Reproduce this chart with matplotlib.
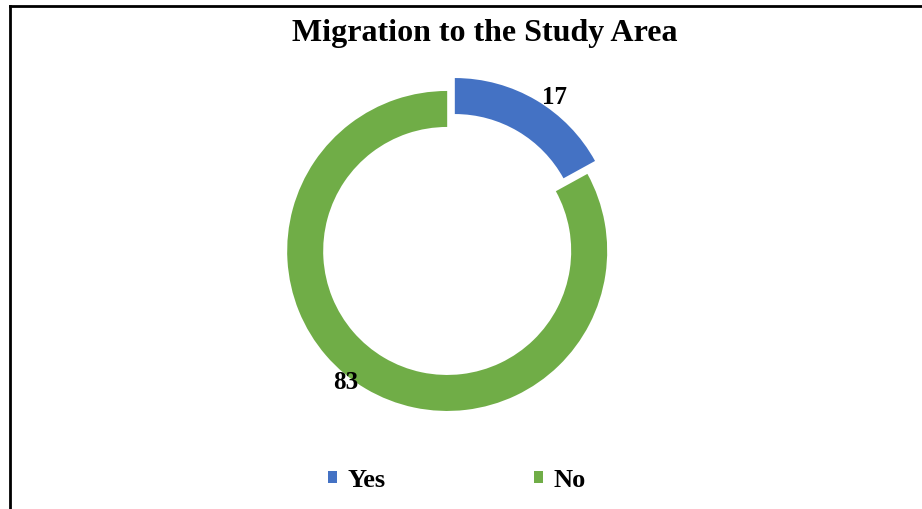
import matplotlib
matplotlib.use("Agg")
import matplotlib.pyplot as plt
from matplotlib.lines import Line2D

# Survey responses (percent)
categories = ["Yes", "No"]
values = [17, 83]
colors = ["#4472C4", "#70AD47"]
title = "Migration to the Study Area"

W, H = 922, 510
fig = plt.figure(figsize=(W / 100, H / 100), dpi=100)
ax = fig.add_axes([0, 0, 1, 1])

serif = ["Liberation Serif", "DejaVu Serif"]

cx, cy = 451, H - 245.5
radius = 160
wedges, _ = ax.pie(
    values,
    colors=colors,
    startangle=90,
    counterclock=False,
    radius=radius,
    center=(cx, cy),
    explode=[7.5, 7.5],
    wedgeprops=dict(width=36, linewidth=0),
)
ax.set_xlim(0, W)
ax.set_ylim(0, H)
ax.set_aspect("equal")
ax.axis("off")

# Value labels
label_pos = [(555, H - 98), (346, H - 383)]
for v, (x, y) in zip(values, label_pos):
    ax.text(x, y, f"{v}", ha="center", va="center", fontsize=18,
            fontweight="bold", family=serif, color="black")

ax.text(485, H - 33, title, ha="center", va="center", fontsize=23,
        fontweight="bold", family=serif, color="black")

# Frame lines on top and left
fig.add_artist(Line2D([10 / W, 1], [1 - 7 / H, 1 - 7 / H], transform=fig.transFigure,
                      color="black", linewidth=2))
fig.add_artist(Line2D([10 / W, 10 / W], [1 - 7 / H, 0], transform=fig.transFigure,
                      color="black", linewidth=2))

leg = fig.legend(
    wedges, categories,
    loc="center", bbox_to_anchor=(457 / W, 1 - 481 / H),
    ncol=2, frameon=False,
    prop=dict(family=serif, weight="bold", size=19),
    handlelength=0.35, handleheight=0.35, handletextpad=0.4,
    columnspacing=5.6,
)

fig.savefig("out.png", dpi=100, facecolor="white")
